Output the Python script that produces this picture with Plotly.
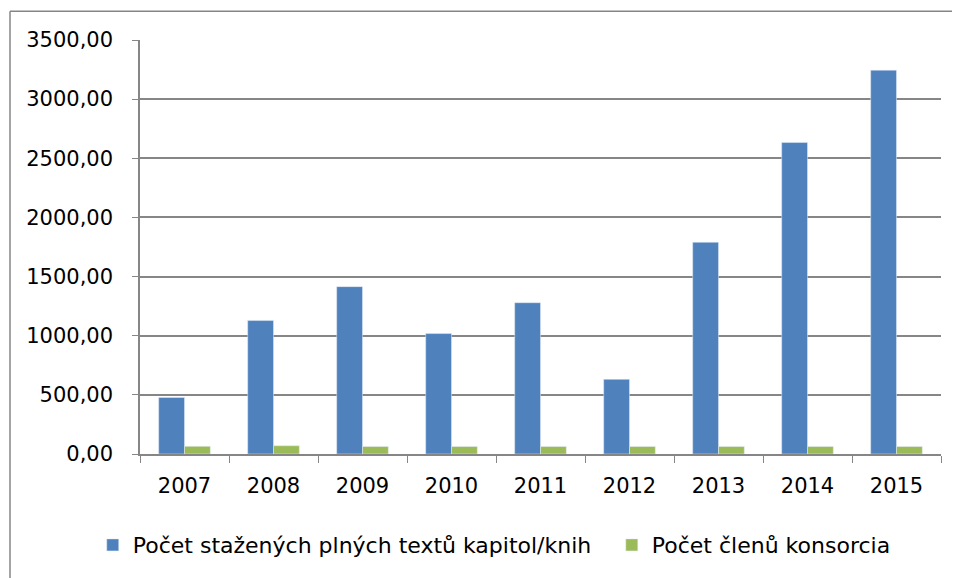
import plotly.graph_objects as go

years = ["2007", "2008", "2009", "2010", "2011", "2012", "2013", "2014", "2015"]
downloads = [478, 1128, 1415, 1018, 1279, 631, 1790, 2633, 3245]
members = [65, 70, 63, 63, 63, 63, 63, 63, 63]
series_names = ["Počet stažených plných textů kapitol/knih", "Počet členů konsorcia"]

FONT = "DejaVu Sans"
GRID = "#868686"

fig = go.Figure()
fig.add_trace(go.Bar(x=years, y=downloads, name=series_names[0], marker_color="#4F81BD",
                     legend="legend"))
fig.add_trace(go.Bar(x=years, y=members, name=series_names[1], marker_color="#9BBB59",
                     legend="legend2"))

# page has an 8px body margin; figure is sized to fit inside the window
fig.update_layout(
    width=952, height=570,
    margin=dict(l=132, r=19, t=32, b=122),
    paper_bgcolor="white", plot_bgcolor="white",
    barmode="group", bargap=0.42, bargroupgap=0,
    separators=", ",
    font=dict(family=FONT, size=21, color="black"),
    showlegend=True,
    legend=dict(orientation="h", x=-0.059, xanchor="left", y=-0.22, yanchor="middle",
                font=dict(family=FONT, size=22), itemwidth=30),
    legend2=dict(orientation="h", x=0.589, xanchor="left", y=-0.22, yanchor="middle",
                 font=dict(family=FONT, size=22), itemwidth=30),
    yaxis=dict(range=[0, 3500], dtick=500, tickformat=".2f", showgrid=True,
               gridcolor=GRID, gridwidth=1.5, showline=True, linecolor=GRID, linewidth=1.5,
               ticks="outside", ticklen=6, tickcolor=GRID, ticklabelstandoff=15,
               zeroline=False),
    xaxis=dict(showline=True, linecolor=GRID, linewidth=1.5, ticks="outside",
               tickson="boundaries", ticklen=7, tickcolor=GRID, ticklabelstandoff=12,
               showgrid=False),
    shapes=[
        dict(type="line", xref="paper", yref="paper", x0=-0.1623, x1=1.1, y0=1.0697, y1=1.0697,
             line=dict(color=GRID, width=1.5)),
        dict(type="line", xref="paper", yref="paper", x0=-0.1623, x1=-0.1623, y0=1.0697, y1=-0.4,
             line=dict(color=GRID, width=1.5)),
    ],
)

fig.write_html("out.html")
